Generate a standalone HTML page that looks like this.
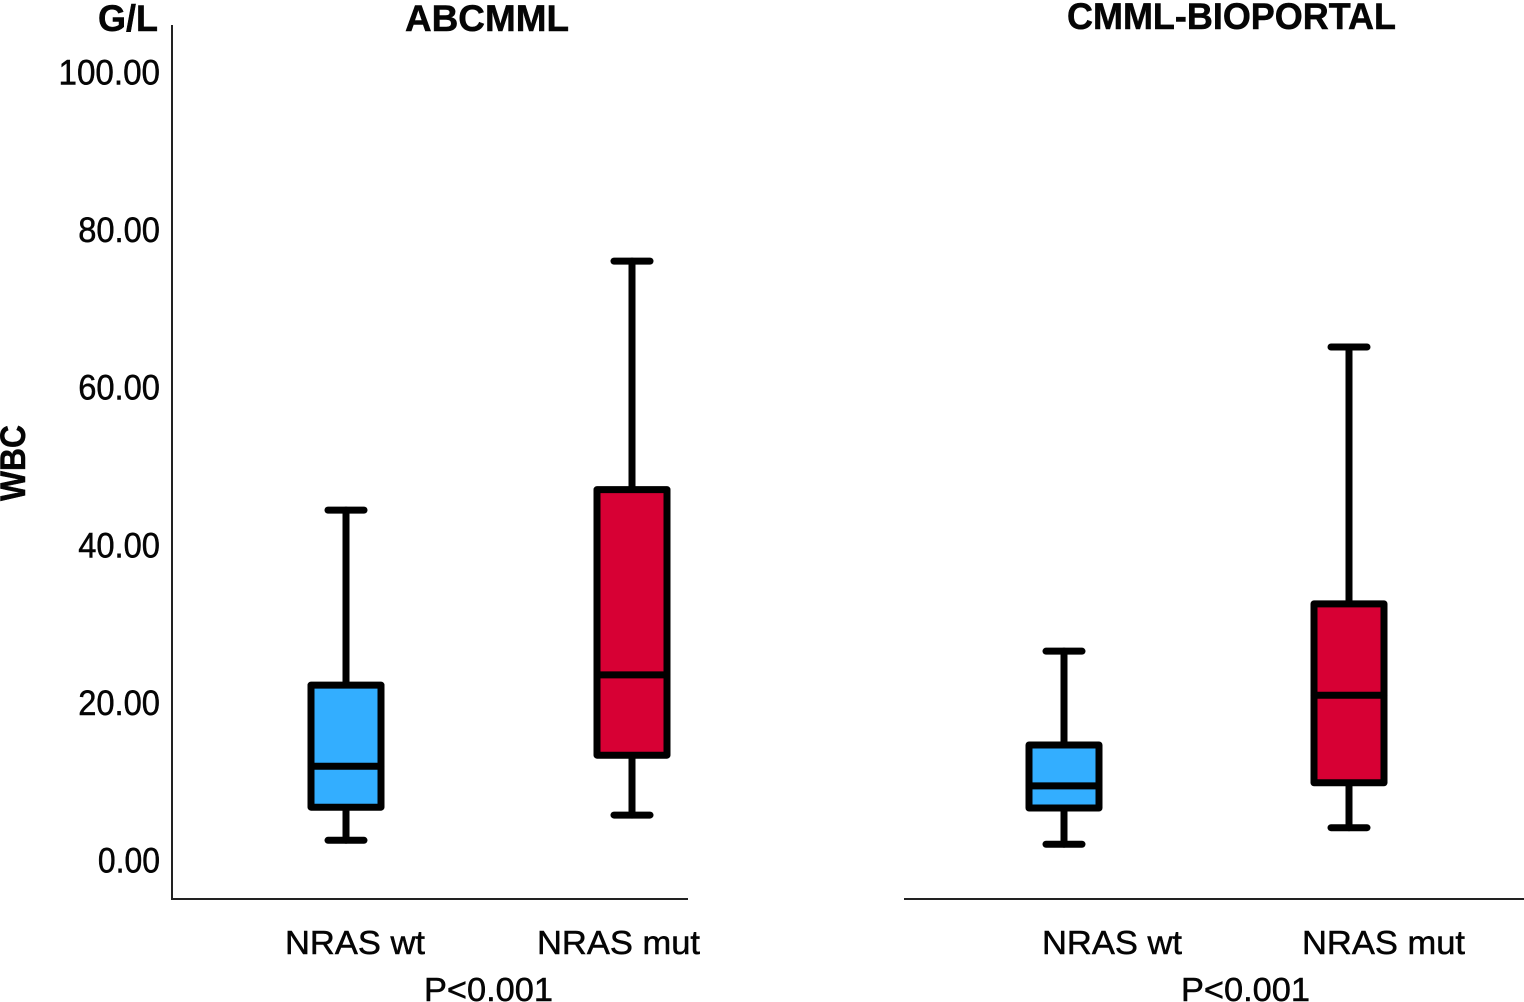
<!DOCTYPE html>
<html lang="en">
<head>
<meta charset="utf-8">
<title>WBC by NRAS status</title>
<style>
html,body{margin:0;padding:0;background:#fff;width:1524px;height:1002px;overflow:hidden}
svg{display:block;font-family:"Liberation Sans",sans-serif}
text{fill:#050505;stroke:#050505;stroke-width:.5px}
</style>
</head>
<body>
<svg id="chart" width="1524" height="1002" viewBox="0 0 1524 1002" xmlns="http://www.w3.org/2000/svg">
  <g id="axes">
    <line x1="172" y1="25" x2="172" y2="900" stroke="#222" stroke-width="2"/>
    <line x1="171" y1="899" x2="688" y2="899" stroke="#222" stroke-width="2"/>
    <line x1="904" y1="899" x2="1524" y2="899" stroke="#222" stroke-width="2"/>
  </g>
  <text x="98" y="31" font-size="37" font-weight="bold" textLength="60" lengthAdjust="spacingAndGlyphs">G/L</text>
  <text transform="translate(25 501) rotate(-90)" font-size="35" font-weight="bold" textLength="76" lengthAdjust="spacingAndGlyphs">WBC</text>
  <text x="405" y="31" font-size="37" font-weight="bold" textLength="164" lengthAdjust="spacingAndGlyphs">ABCMML</text>
  <text x="1067" y="29" font-size="37" font-weight="bold" textLength="329" lengthAdjust="spacingAndGlyphs">CMML-BIOPORTAL</text>
  <text x="285" y="954" font-size="33" textLength="140" lengthAdjust="spacingAndGlyphs">NRAS wt</text>
  <text x="537" y="954" font-size="33" textLength="163" lengthAdjust="spacingAndGlyphs">NRAS mut</text>
  <text x="1042" y="954" font-size="33" textLength="140" lengthAdjust="spacingAndGlyphs">NRAS wt</text>
  <text x="1302" y="954" font-size="33" textLength="163" lengthAdjust="spacingAndGlyphs">NRAS mut</text>
  <text x="424" y="1001" font-size="33" textLength="129" lengthAdjust="spacingAndGlyphs">P&lt;0.001</text>
  <text x="1181" y="1001" font-size="33" textLength="129" lengthAdjust="spacingAndGlyphs">P&lt;0.001</text>
  <g id="ticks"></g>
  <g id="boxes"></g>
</svg>
<script>
// Data (WBC, G/L)
const tickValues = [0, 20, 40, 60, 80, 100];
const tickLabels = ["0.00", "20.00", "40.00", "60.00", "80.00", "100.00"];
const categories = ["abcmml-nras-wt", "abcmml-nras-mut", "bioportal-nras-wt", "bioportal-nras-mut"];
const whiskerLow = [2.5, 5.7, 2.0, 4.1];
const quartile1 = [6.7, 13.3, 6.6, 9.8];
const medians = [11.9, 23.5, 9.4, 20.9];
const quartile3 = [22.2, 47.0, 14.6, 32.5];
const whiskerHigh = [44.4, 76.0, 26.5, 65.1];

// Axis functions
function yScale(v) { return 860 - v * 7.88; }
function xScale(i) {
  const panel = Math.floor(i / 2);
  const slot = i % 2;
  return (panel === 0 ? 346 : 1064) + slot * (panel === 0 ? 286 : 285);
}

const NS = "http://www.w3.org/2000/svg";
const ticksGroup = document.getElementById("ticks");
const boxesGroup = document.getElementById("boxes");

function make(tag, attrs, parent) {
  const el = document.createElementNS(NS, tag);
  for (const k in attrs) el.setAttribute(k, attrs[k]);
  parent.appendChild(el);
  return el;
}

tickValues.forEach(function (v, i) {
  const digits = tickLabels[i].length - 1;
  const label = make("text", {
    x: 160, y: yScale(v) + 12.5, "text-anchor": "end", "font-size": 35,
    textLength: digits * 19.7 + 3, lengthAdjust: "spacingAndGlyphs"
  }, ticksGroup);
  label.textContent = tickLabels[i];
  
  
});

const colors = ["#33aeff", "#d70034", "#33aeff", "#d70034"];
const strokeW = 7;
const halfBox = 35;
const halfCap = 18;

categories.forEach(function (cat, i) {
  const cx = xScale(i);
  const g = make("g", { stroke: "#000", "stroke-width": strokeW, "stroke-linecap": "round", "stroke-linejoin": "round" }, boxesGroup);
  
  

  const whisker = make("line", { x1: cx, x2: cx, y1: yScale(whiskerHigh[i]), y2: yScale(whiskerLow[i]) }, g);
  
  

  const capTop = make("line", { x1: cx - halfCap, x2: cx + halfCap, y1: yScale(whiskerHigh[i]), y2: yScale(whiskerHigh[i]) }, g);
  
  

  const capLow = make("line", { x1: cx - halfCap, x2: cx + halfCap, y1: yScale(whiskerLow[i]), y2: yScale(whiskerLow[i]) }, g);
  
  

  const box = make("rect", {
    x: cx - halfBox, width: halfBox * 2,
    y: yScale(quartile3[i]), height: yScale(quartile1[i]) - yScale(quartile3[i]),
    fill: colors[i]
  }, g);
  
  

  const med = make("line", { x1: cx - halfBox, x2: cx + halfBox, y1: yScale(medians[i]), y2: yScale(medians[i]) }, g);
  
  
});
</script>
</body>
</html>
